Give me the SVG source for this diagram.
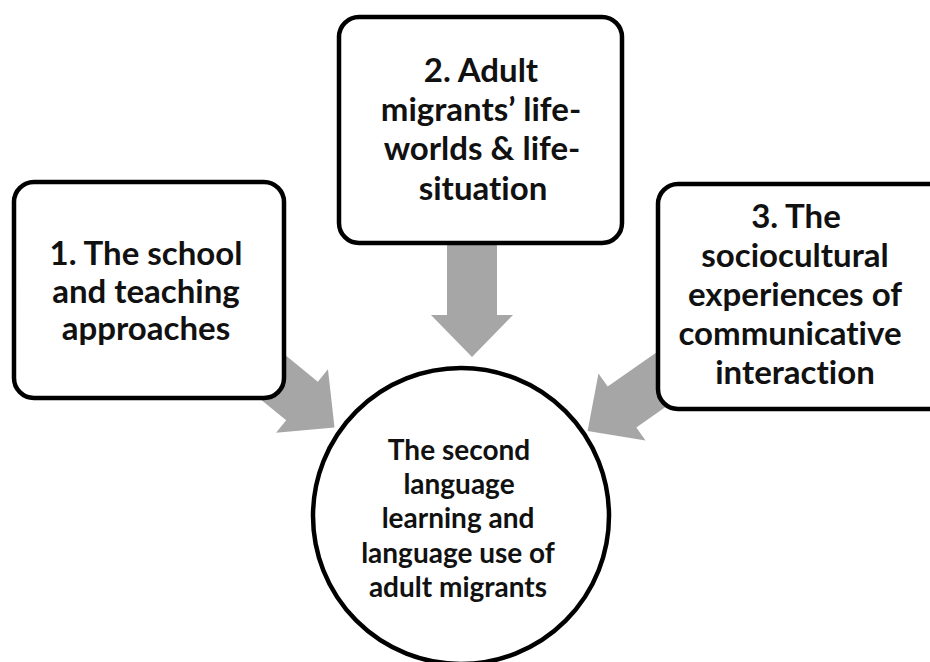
<svg xmlns="http://www.w3.org/2000/svg" width="930" height="662" viewBox="0 0 930 662">
<defs>
<style>
.box{fill:#fff;stroke:#000;stroke-width:4.5}
.arrow{fill:#a6a6a6}
.t{font-family:Lato,"Open Sans","Liberation Sans",sans-serif;font-weight:bold;font-size:33px;fill:#111;text-anchor:middle;font-variant-ligatures:none;font-feature-settings:"liga" 0,"clig" 0,"dlig" 0}
.c{font-size:28px}
</style>
<path id="arr" d="M-80,-25 L0,-25 L0,-41 L42,0 L0,41 L0,25 L-80,25 Z"/>
</defs>
<rect width="930" height="662" fill="#fff"/>
<g id="connectors">
<use href="#arr" class="arrow" transform="translate(302,401) rotate(39.3)"/>
<use href="#arr" class="arrow" transform="translate(472,315) rotate(90)"/>
<use href="#arr" class="arrow" transform="translate(622,407) rotate(145)"/>
</g>
<g id="node1">
<rect class="box" x="14" y="182" width="270" height="216" rx="20"/>
<text class="t" x="146" y="265">1. The school</text>
<text class="t" x="146" y="303">and teaching</text>
<text class="t" x="146" y="340">approaches</text>
</g>
<g id="node2">
<rect class="box" x="339" y="17" width="283" height="226" rx="20"/>
<text class="t" x="481" y="82">2. Adult</text>
<text class="t" x="481" y="121">migrants’ life-</text>
<text class="t" x="482" y="160">worlds &amp; life-</text>
<text class="t" x="483" y="200">situation</text>
</g>
<g id="node3">
<rect class="box" x="658" y="184" width="290" height="225" rx="20"/>
<text class="t" x="796" y="228">3. The</text>
<text class="t" x="795" y="267">sociocultural</text>
<text class="t" x="795" y="306">experiences of</text>
<text class="t" x="790" y="345">communicative</text>
<text class="t" x="795" y="384">interaction</text>
</g>
<g id="center">
<circle class="box" cx="461" cy="516" r="148" stroke-width="4"/>
<text class="t c" x="459" y="460">The second</text>
<text class="t c" x="459" y="494">language</text>
<text class="t c" x="458" y="528">learning and</text>
<text class="t c" x="458" y="563">language use of</text>
<text class="t c" x="458" y="597">adult migrants</text>
</g>
</svg>
